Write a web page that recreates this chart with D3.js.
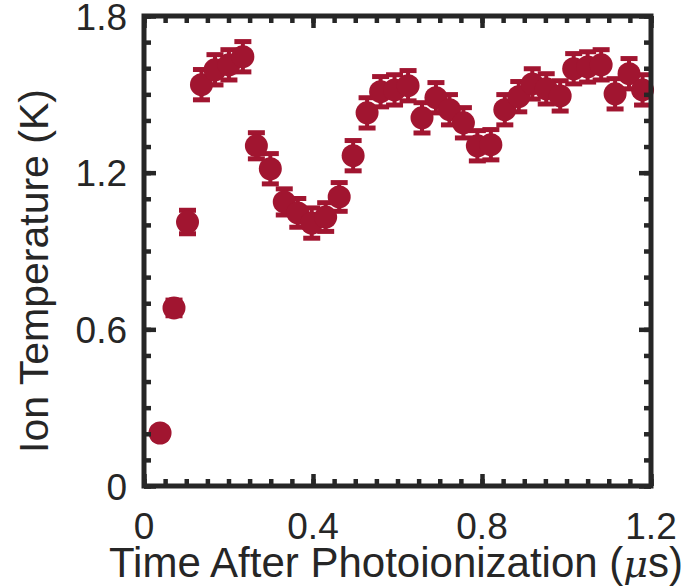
<!DOCTYPE html>
<html>
<head>
<meta charset="utf-8">
<script src="https://cdn.jsdelivr.net/npm/d3@7"></script>
<style>
  html, body { margin: 0; padding: 0; background: #fff; }
  svg { display: block; }
  text { font-family: "Liberation Sans", Arial, sans-serif; fill: #262626; }
</style>
</head>
<body>
<div id="chart"></div>
<script>
// ---- Data ----
const timeUs = [0.038, 0.071, 0.103, 0.136, 0.168, 0.201, 0.234, 0.266, 0.299, 0.332,
                0.364, 0.397, 0.430, 0.462, 0.495, 0.528, 0.560, 0.593, 0.625, 0.658,
                0.691, 0.723, 0.756, 0.789, 0.821, 0.854, 0.887, 0.919, 0.952, 0.985,
                1.017, 1.050, 1.082, 1.115, 1.148, 1.180];
const ionTempK = [0.203, 0.682, 1.011, 1.537, 1.594, 1.613, 1.644, 1.303, 1.215, 1.088,
                  1.046, 1.007, 1.030, 1.107, 1.265, 1.429, 1.510, 1.517, 1.533, 1.410,
                  1.487, 1.441, 1.391, 1.303, 1.307, 1.441, 1.491, 1.540, 1.521, 1.494,
                  1.598, 1.605, 1.613, 1.502, 1.579, 1.517];
const ionTempErr = [0.02, 0.03, 0.045, 0.058, 0.058, 0.058, 0.058, 0.05, 0.058, 0.05,
                    0.055, 0.058, 0.055, 0.055, 0.058, 0.058, 0.058, 0.058, 0.058, 0.058,
                    0.058, 0.058, 0.058, 0.058, 0.058, 0.058, 0.058, 0.058, 0.058, 0.058,
                    0.058, 0.058, 0.058, 0.058, 0.058, 0.058];
const xTicks = [0, 0.4, 0.8, 1.2];
const yTicks = [0, 0.6, 1.2, 1.8];
const xTickLabels = ["0", "0.4", "0.8", "1.2"];
const yTickLabels = ["0", "0.6", "1.2", "1.8"];
const xTitle = "Time After Photoionization (";
const xTitleUnit = "\u03BC";
const yTitle = "Ion Temperature (K)";

// ---- Layout ----
const W = 685, H = 586;
const plot = { left: 144, right: 651, top: 16, bottom: 486 };
const color = "#a11530";
const axisColor = "#262626";

const x = d3.scaleLinear().domain([0, 1.2]).range([plot.left, plot.right]);
const y = d3.scaleLinear().domain([0, 1.8]).range([plot.bottom, plot.top]);

const svg = d3.select("#chart").append("svg").attr("width", W).attr("height", H);

// data
const data = timeUs.map((t, i) => ({ t, v: ionTempK[i], e: ionTempErr[i] }));
const capW = 17;
const g = svg.append("g");
const eb = g.selectAll("g.eb").data(data).enter().append("g");
eb.append("line")
  .attr("x1", d => x(d.t)).attr("x2", d => x(d.t))
  .attr("y1", d => y(d.v - d.e)).attr("y2", d => y(d.v + d.e))
  .attr("stroke", color).attr("stroke-width", 4);
eb.append("line")
  .attr("x1", d => x(d.t) - capW / 2).attr("x2", d => x(d.t) + capW / 2)
  .attr("y1", d => y(d.v + d.e)).attr("y2", d => y(d.v + d.e))
  .attr("stroke", color).attr("stroke-width", 5);
eb.append("line")
  .attr("x1", d => x(d.t) - capW / 2).attr("x2", d => x(d.t) + capW / 2)
  .attr("y1", d => y(d.v - d.e)).attr("y2", d => y(d.v - d.e))
  .attr("stroke", color).attr("stroke-width", 5);
g.selectAll("circle").data(data).enter().append("circle")
  .attr("cx", d => x(d.t)).attr("cy", d => y(d.v)).attr("r", 11.5)
  .attr("fill", color);

// axes (ticks inward, mirrored)
const xMinor = d3.range(0, 1.2001, 0.05);
const yMinor = d3.range(0, 1.8001, 0.1);
function addAxis(axisGen, transform) {
  const a = svg.append("g").attr("transform", transform).call(axisGen);
  a.select(".domain").remove();
  a.selectAll("line").attr("stroke", axisColor).attr("stroke-width", 4.5);
  a.selectAll("text").remove();
  return a;
}
addAxis(d3.axisBottom(x).tickValues(xMinor).tickSize(-7), `translate(0,${plot.bottom})`);
addAxis(d3.axisBottom(x).tickValues(xTicks).tickSize(-12), `translate(0,${plot.bottom})`);
addAxis(d3.axisTop(x).tickValues(xMinor).tickSize(-7), `translate(0,${plot.top})`);
addAxis(d3.axisTop(x).tickValues(xTicks).tickSize(-12), `translate(0,${plot.top})`);
addAxis(d3.axisLeft(y).tickValues(yMinor).tickSize(-7), `translate(${plot.left},0)`);
addAxis(d3.axisLeft(y).tickValues(yTicks).tickSize(-12), `translate(${plot.left},0)`);
addAxis(d3.axisRight(y).tickValues(yMinor).tickSize(-7), `translate(${plot.right},0)`);
addAxis(d3.axisRight(y).tickValues(yTicks).tickSize(-12), `translate(${plot.right},0)`);

svg.append("rect")
  .attr("x", plot.left).attr("y", plot.top)
  .attr("width", plot.right - plot.left).attr("height", plot.bottom - plot.top)
  .attr("fill", "none").attr("stroke", axisColor).attr("stroke-width", 5);

// tick labels
svg.append("g").selectAll("text").data(xTicks).enter().append("text")
  .attr("x", d => x(d)).attr("y", 539)
  .attr("text-anchor", "middle").attr("font-size", 37)
  .text((d, i) => xTickLabels[i]);
svg.append("g").selectAll("text").data(yTicks).enter().append("text")
  .attr("x", 127).attr("y", d => y(d) + 13.5)
  .attr("text-anchor", "end").attr("font-size", 37)
  .text((d, i) => yTickLabels[i]);

// axis titles
const xt = svg.append("text").attr("x", 396).attr("y", 577)
  .attr("text-anchor", "middle").attr("font-size", 42);
xt.append("tspan").text(xTitle);
xt.append("tspan").attr("font-style", "italic").attr("font-family", "DejaVu Serif, serif").attr("font-size", 38).text(xTitleUnit);
xt.append("tspan").text("s)");

svg.append("text")
  .attr("transform", `translate(48,271) rotate(-90)`)
  .attr("text-anchor", "middle").attr("font-size", 41)
  .text(yTitle);
</script>
</body>
</html>
